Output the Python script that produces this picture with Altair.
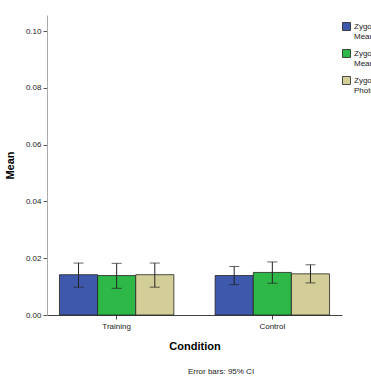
import altair as alt
import pandas as pd

# Group means with 95% CI bounds
conditions = ["Training", "Training", "Training", "Control", "Control", "Control"]
series = ["Zygomaticus|Mean Peak", "Zygomaticus|Mean Onset", "Zygomaticus|Photograph"] * 2
means = [0.0142, 0.0139, 0.0142, 0.0139, 0.0150, 0.0145]
ci_low = [0.0098, 0.0094, 0.0098, 0.0107, 0.0112, 0.0113]
ci_high = [0.0183, 0.0182, 0.0183, 0.0171, 0.0187, 0.0177]

series_order = ["Zygomaticus|Mean Peak", "Zygomaticus|Mean Onset", "Zygomaticus|Photograph"]
colors = ["#3e58ac", "#2eb848", "#d3ce97"]
y_ticks = [0.0, 0.02, 0.04, 0.06, 0.08, 0.10]

df = pd.DataFrame({
    "Condition": conditions,
    "Series": series,
    "Mean": means,
    "Low": ci_low,
    "High": ci_high,
})

font = "Liberation Sans"

x_enc = alt.X(
    "Condition:N",
    sort=["Training", "Control"],
    scale=alt.Scale(paddingInner=0.265, paddingOuter=0.08),
    axis=alt.Axis(
        title="Condition", titleFont=font, titleFontSize=11, titleFontWeight="bold",
        titleColor="#000", titlePadding=10, labelFont=font, labelFontSize=8,
        labelColor="#222", labelAngle=0, labelPadding=3, tickSize=4,
        domainColor="#444", tickColor="#444", grid=False,
    ),
)
xoff = alt.XOffset("Series:N", sort=series_order)
y_scale = alt.Scale(domain=[0, 0.1057], nice=False, zero=True)

bars = alt.Chart(df).mark_bar(stroke="#222", strokeWidth=0.8).encode(
    x=x_enc,
    xOffset=xoff,
    y=alt.Y(
        "Mean:Q", scale=y_scale,
        axis=alt.Axis(
            values=y_ticks, format=".2f", title="Mean", titleFont=font,
            titleFontSize=11, titleFontWeight="bold", titleColor="#000",
            titlePadding=10, labelFont=font, labelFontSize=8, labelColor="#222",
            tickSize=4, domainColor="#aaa", tickColor="#555", grid=False,
        ),
    ),
    color=alt.Color(
        "Series:N", sort=series_order,
        scale=alt.Scale(domain=series_order, range=colors),
        legend=alt.Legend(
            title=None, orient="none", legendX=295, legendY=7,
            labelExpr="split(datum.label, '|')", labelFont=font, labelFontSize=8,
            labelColor="#222", symbolType="square", symbolSize=64,
            symbolStrokeColor="#222", symbolStrokeWidth=0.8, rowPadding=6,
            labelOffset=3, labelLimit=200,
        ),
    ),
)

whisker = alt.Chart(df).mark_rule(color="#222", strokeWidth=1).encode(
    x=x_enc, xOffset=xoff, y=alt.Y("Low:Q", scale=y_scale), y2="High:Q"
)
cap_top = alt.Chart(df).mark_tick(color="#222", size=10, thickness=1, orient="horizontal").encode(
    x=x_enc, xOffset=xoff, y=alt.Y("High:Q", scale=y_scale)
)
cap_low = alt.Chart(df).mark_tick(color="#222", size=10, thickness=1, orient="horizontal").encode(
    x=x_enc, xOffset=xoff, y=alt.Y("Low:Q", scale=y_scale)
)

note = alt.Chart(pd.DataFrame({"t": ["Error bars: 95% CI"]})).mark_text(
    font=font, fontSize=8, color="#222", align="center", baseline="middle"
).encode(x=alt.value(174), y=alt.value(357), text="t:N")

chart = alt.layer(bars, whisker, cap_top, cap_low, note).properties(
    width=295,
    height=300,
    autosize=alt.AutoSizeParams(type="none"),
    padding={"left": 47, "top": 15, "right": 29, "bottom": 65},
).configure(background="white").configure_view(stroke=None)

chart.save("out.html", embed_options={"renderer": "svg", "actions": False})
